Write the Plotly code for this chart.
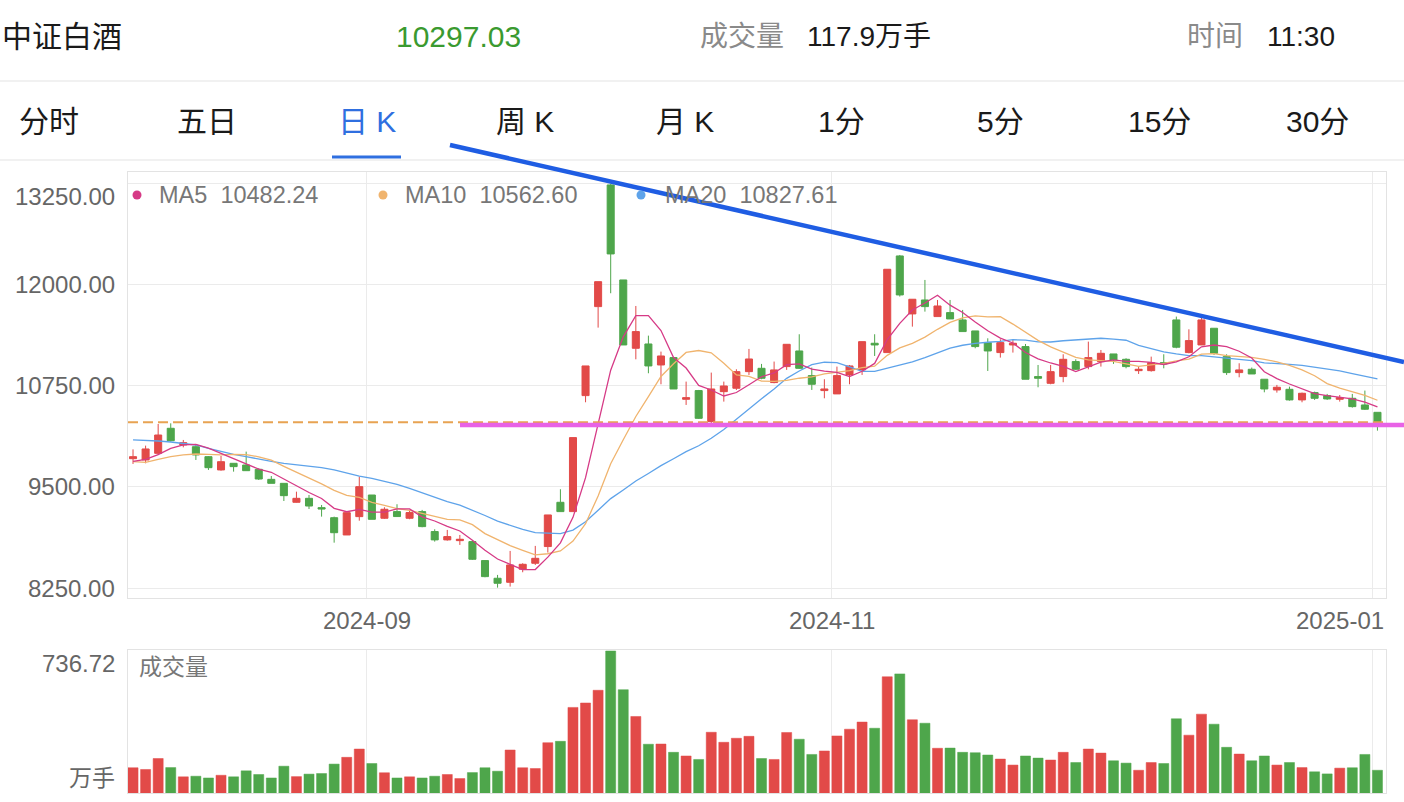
import plotly.graph_objects as go
import pandas as pd

W, H = 1404, 802

# ---------------- data ----------------
holidays = ["2024-09-16", "2024-09-17", "2024-10-01", "2024-10-02", "2024-10-03",
            "2024-10-04", "2024-10-07", "2025-01-01"]
dates = [d.strftime("%Y-%m-%d") for d in pd.bdate_range("2024-08-06", "2025-01-02")
         if d.strftime("%Y-%m-%d") not in holidays]

opens = [9849, 9833, 9915, 10224, 10018, 9997, 9874, 9710, 9792, 9771,
         9718, 9594, 9545, 9311, 9360, 9245, 9121, 8908, 9134, 9401,
         9114, 9196, 9114, 9196, 8950, 8847, 8838, 8826, 8592, 8374,
         8324, 8485, 8559, 8765, 9311, 9196, 10627, 11725, 13226, 12054,
         11211, 11264, 11005, 11096, 10582, 10689, 10306, 10676, 10718, 10923,
         10964, 10788, 10985, 11178, 10874, 10689, 10648, 10882, 10944, 11273,
         11158, 12350, 11635, 11807, 11602, 11651, 11561, 11425, 11281, 11158,
         11252, 11232, 10862, 10779, 10862, 11047, 10985, 11047, 11141, 11075,
         10935, 10935, 11034, 11561, 11158, 11252, 11458, 11108, 10911, 10952,
         10829, 10697, 10705, 10574, 10664, 10627, 10582, 10594, 10512, 10421]
highs = [9964, 10010, 10277, 10285, 10080, 10018, 9882, 9882, 9792, 9936,
         9730, 9635, 9545, 9442, 9401, 9278, 9134, 9183, 9627, 9401,
         9250, 9287, 9217, 9217, 8978, 8970, 8908, 8838, 8592, 8415,
         8711, 8559, 8773, 9155, 9472, 10109, 10993, 12033, 13238, 12054,
         11733, 11367, 11170, 11096, 10800, 10697, 10911, 10800, 10952, 11203,
         11018, 11047, 11260, 11384, 10973, 10829, 10985, 11005, 11293, 11384,
         12186, 12362, 11816, 12054, 11807, 11807, 11684, 11425, 11334, 11322,
         11314, 11264, 11005, 11005, 11137, 11075, 11293, 11190, 11141, 11088,
         10985, 11108, 11137, 11602, 11445, 11589, 11458, 11137, 11026, 10973,
         10829, 10759, 10738, 10664, 10676, 10648, 10635, 10648, 10689, 10421]
lows = [9784, 9792, 9895, 10059, 9989, 9833, 9710, 9701, 9689, 9701,
        9586, 9545, 9327, 9307, 9228, 9134, 8813, 8908, 9084, 9101,
        9106, 9135, 9102, 9003, 8826, 8838, 8785, 8600, 8386, 8258,
        8271, 8448, 8538, 8691, 9196, 9196, 10545, 11466, 11890, 11252,
        11075, 10903, 10767, 10709, 10512, 10339, 10245, 10553, 10697, 10882,
        10829, 10779, 10944, 10956, 10697, 10594, 10648, 10767, 10882, 11116,
        11158, 11849, 11478, 11663, 11602, 11573, 11417, 11211, 10931, 11096,
        11158, 10829, 10730, 10767, 10792, 10944, 10952, 10985, 11018, 10964,
        10894, 10923, 10964, 11211, 11149, 11252, 11129, 10882, 10853, 10894,
        10668, 10664, 10565, 10545, 10574, 10574, 10553, 10479, 10450, 10195]
closes = [9874, 9969, 10141, 10071, 10047, 9895, 9738, 9812, 9751, 9701,
          9598, 9545, 9393, 9360, 9265, 9228, 8936, 9183, 9504, 9101,
          9225, 9135, 9184, 9011, 8847, 8888, 8855, 8608, 8394, 8312,
          8538, 8546, 8620, 9155, 9196, 10109, 10993, 12033, 12375, 11252,
          11417, 10993, 11116, 10709, 10602, 10347, 10709, 10746, 10923, 11079,
          10841, 10944, 11260, 10964, 10767, 10709, 10874, 10993, 11293, 11252,
          12186, 11869, 11816, 11725, 11733, 11573, 11417, 11232, 11178, 11281,
          11273, 10829, 10841, 10923, 11075, 10952, 11096, 11149, 11067, 10985,
          10952, 11034, 11018, 11224, 11306, 11561, 11149, 10911, 10944, 10894,
          10709, 10730, 10574, 10656, 10594, 10586, 10602, 10491, 10459, 10297.03]
volumes = [131, 122, 179, 132, 84, 87, 78, 92, 84, 115,
           96, 78, 139, 85, 98, 101, 150, 185, 228, 153,
           105, 78, 84, 78, 87, 96, 75, 106, 131, 113,
           223, 131, 127, 261, 268, 444, 467, 533, 736.72, 536,
           397, 253, 254, 211, 192, 174, 315, 263, 284, 294,
           179, 174, 314, 279, 200, 218, 296, 331, 368, 336,
           603, 618, 380, 362, 232, 233, 211, 209, 197, 176,
           145, 192, 181, 171, 211, 158, 228, 207, 167, 155,
           118, 158, 153, 385, 300, 409, 357, 237, 202, 167,
           192, 145, 158, 132, 110, 99, 129, 131, 200, 117.9]

# moving-average values before the window fills
ma5_head = [9815, 9840, 9900, 9975]
ma10_head = [9812, 9804, 9841, 9874, 9895, 9907, 9903, 9895, 9903]
ma20_head = [10080, 10075, 10067, 10055, 10038, 10018, 9977, 9936, 9903, 9874,
             9841, 9816, 9792, 9775, 9755, 9738, 9710, 9668, 9635]
ma_legend = [("MA5", "10482.24"), ("MA10", "10562.60"), ("MA20", "10827.61")]

price_ticks = [8250, 9500, 10750, 12000, 13250]
vol_max_label = "736.72"
month_labels = ["2024-09", "2024-11", "2025-01"]
last_price = 10297.03
header_volume = "117.9万手"
header_time = "11:30"
tabs = ["分时", "五日", "日 K", "周 K", "月 K", "1分", "5分", "15分", "30分"]
tab_centers = [49, 207, 367, 525, 685, 841, 1000, 1159, 1317]
title = "中证白酒"


def rolling(vals, n, head):
    out = list(head)
    for i in range(len(head), len(vals)):
        out.append(sum(vals[i - n + 1:i + 1]) / n)
    return out


ma5 = rolling(closes, 5, ma5_head)
ma10 = rolling(closes, 10, ma10_head)
ma20 = rolling(closes, 20, ma20_head)

# ---------------- styling ----------------
RED = "#e24a48"
GREEN = "#4ea64b"
C_MA5 = "#d63a86"
C_MA10 = "#f0b46e"
C_MA20 = "#5ea3ea"
GRID = "#ebebeb"
FONT = "Liberation Sans, Noto Sans CJK SC, sans-serif"


def px(x):
    return x / W


def py(y):
    return 1 - y / H


x_idx = list(range(len(dates)))
xr = [-0.4, 99.68]
# grid line at the first trading day of each labelled month
grid_x = []
for lab in month_labels:
    first = next(i for i, d in enumerate(dates) if d.startswith(lab))
    grid_x.append(first - 0.4)

fig = go.Figure()

fig.add_trace(go.Candlestick(
    x=x_idx, open=opens, high=highs, low=lows, close=closes,
    increasing=dict(line=dict(color=RED, width=1), fillcolor=RED),
    decreasing=dict(line=dict(color=GREEN, width=1), fillcolor=GREEN),
    whiskerwidth=0, xaxis="x", yaxis="y", hoverinfo="skip"))

for vals, col in [(ma20, C_MA20), (ma10, C_MA10), (ma5, C_MA5)]:
    fig.add_trace(go.Scatter(x=x_idx, y=vals, mode="lines",
                             line=dict(color=col, width=1.3),
                             xaxis="x", yaxis="y", hoverinfo="skip"))

vol_colors = [RED if c >= o else GREEN for o, c in zip(opens, closes)]
fig.add_trace(go.Bar(x=x_idx, y=volumes, width=0.8,
                     marker=dict(color=vol_colors, line=dict(color=vol_colors, width=0.5)),
                     xaxis="x2", yaxis="y2", hoverinfo="skip"))

# domains
x_dom = [px(128), px(1386)]
price_dom = [py(597.7), py(172.3)]
vol_dom = [py(793), py(649.5)]

axis_common = dict(showline=True, mirror=True, linecolor="#e3e3e3", linewidth=1,
                   zeroline=False, fixedrange=True, ticks="")

fig.update_layout(
    width=W, height=H,
    margin=dict(l=0, r=0, t=0, b=0),
    paper_bgcolor="white", plot_bgcolor="white",
    showlegend=False, boxgap=0.2, bargap=0.2,
    font=dict(family=FONT),
    xaxis=dict(domain=x_dom, range=xr, anchor="y", tickvals=grid_x, showticklabels=False,
               showgrid=True, gridcolor=GRID, rangeslider=dict(visible=False), **axis_common),
    yaxis=dict(domain=price_dom, range=[8134, 13382], anchor="x", tickvals=price_ticks,
               showticklabels=False, showgrid=True, gridcolor=GRID, **axis_common),
    xaxis2=dict(domain=x_dom, range=xr, anchor="y2", tickvals=grid_x, showticklabels=False,
                showgrid=True, gridcolor=GRID, **axis_common),
    yaxis2=dict(domain=vol_dom, range=[0, 744.5], anchor="x2", showticklabels=False,
                showgrid=False, **axis_common),
)

shapes = []
# separators in header
shapes.append(dict(type="line", xref="paper", yref="paper", x0=0, x1=1, y0=py(81), y1=py(81),
                   line=dict(color="#ececec", width=1.5)))
shapes.append(dict(type="line", xref="paper", yref="paper", x0=0, x1=1, y0=py(160), y1=py(160),
                   line=dict(color="#ececec", width=1.5)))
# tab underline
shapes.append(dict(type="line", xref="paper", yref="paper", x0=px(332), x1=px(401),
                   y0=py(157), y1=py(157), line=dict(color="#2f6fe0", width=3)))
# current price dashed line
shapes.append(dict(type="line", xref="x", yref="y", x0=xr[0], x1=xr[1], y0=last_price, y1=last_price,
                   line=dict(color="#e8a352", width=2, dash="10px,5px")))
# hand-drawn support line (magenta)
shapes.append(dict(type="line", xref="paper", yref="paper", x0=px(460), x1=1.0,
                   y0=py(425), y1=py(425), line=dict(color="#e862e6", width=4.5)))
# hand-drawn resistance line (blue)
shapes.append(dict(type="line", xref="paper", yref="paper", x0=px(450), y0=py(145),
                   x1=1.0, y1=py(362), line=dict(color="#1f5de3", width=4.5)))
# legend dots
for cx, col in [(137, C_MA5), (383, C_MA10), (641, C_MA20)]:
    shapes.append(dict(type="circle", xref="paper", yref="paper",
                       x0=px(cx - 4.5), x1=px(cx + 4.5), y0=py(195 + 4.5), y1=py(195 - 4.5),
                       fillcolor=col, line=dict(width=0), layer="above"))
fig.update_layout(shapes=shapes)

ann = []


def text(x, y, s, size, color, xanchor="left", xref="paper", yref="paper", yanchor="middle", yshift=0):
    ann.append(dict(x=x, y=y, xref=xref, yref=yref, text=s, showarrow=False,
                    xanchor=xanchor, yanchor=yanchor, yshift=yshift,
                    font=dict(size=size, color=color, family=FONT)))


# header
text(px(0), py(37), title, 30, "#1a1a1a")
text(px(458), py(37), f"{last_price:.2f}", 30, "#3a9a30", xanchor="center")
text(px(698), py(37), "成交量", 28, "#8a8a8a")
text(px(805), py(37), header_volume, 28, "#1a1a1a")
text(px(1185), py(37), "时间", 28, "#8a8a8a")
text(px(1265), py(37), header_time, 28, "#1a1a1a")
# tabs
for t, cx in zip(tabs, tab_centers):
    text(px(cx), py(122), t, 30, "#2f6fe0" if t == "日 K" else "#1a1a1a", xanchor="center")

# legend
for (name, val), lx in zip(ma_legend, [157, 403, 663]):
    text(px(lx), py(195), f"{name}&nbsp;&nbsp;{val}", 23.5, "#777777")

# price labels
for v in price_ticks:
    text(px(117), v, f"{v:.2f}", 24, "#666666", xanchor="right", yref="y",
         yshift=-14 if v == price_ticks[-1] else 0)

# month labels
for lab, gx in zip(month_labels, grid_x):
    if lab == month_labels[-1]:
        text(xr[1], py(620), lab, 24, "#666666", xanchor="right", xref="x")
    else:
        text(gx, py(620), lab, 24, "#666666", xanchor="center", xref="x")

# volume labels
text(px(117), py(663), vol_max_label, 24, "#666666", xanchor="right")
text(px(117), py(778), "万手", 23, "#666666", xanchor="right")
text(px(137), py(667), "成交量", 23, "#777777")

fig.update_layout(annotations=ann)

fig.write_html("out.html")
